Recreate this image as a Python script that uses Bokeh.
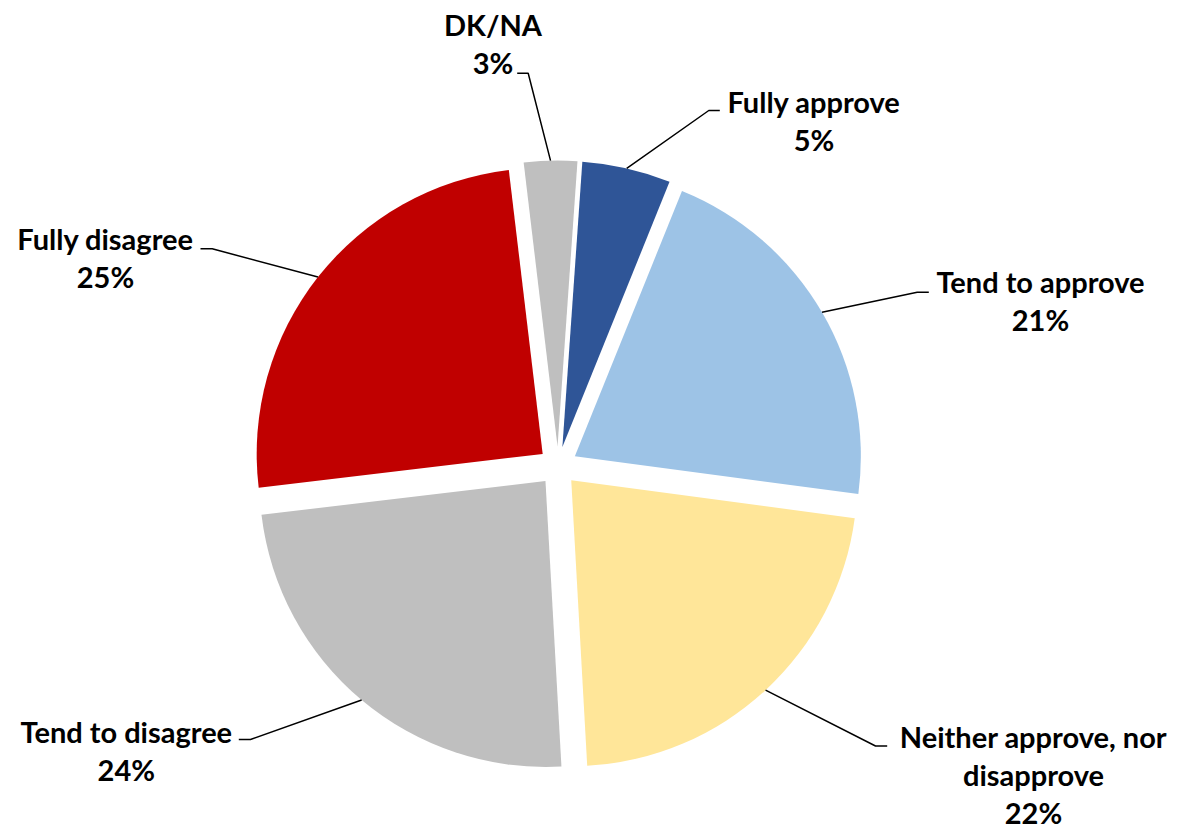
from math import sin, cos, radians

from bokeh.core.properties import value
from bokeh.embed import file_html
from bokeh.models import ColumnDataSource, Range1d
from bokeh.plotting import figure
from bokeh.resources import INLINE

# Survey answers, clockwise from just past 12 o'clock
categories = [
    "Fully approve",
    "Tend to approve",
    "Neither approve, nor disapprove",
    "Tend to disagree",
    "Fully disagree",
    "DK/NA",
]
shares = [5, 21, 22, 24, 25, 3]
label_lines = [
    ["Fully approve"],
    ["Tend to approve"],
    ["Neither approve, nor", "disapprove"],
    ["Tend to disagree"],
    ["Fully disagree"],
    ["DK/NA"],
]
colors = ["#2F5597", "#9DC3E6", "#FFE699", "#BFBFBF", "#C00000", "#BFBFBF"]

# Canvas and pie geometry (pixel units, y measured downward from the top)
W, H = 1182, 830
CX, CY = 557.5, 465.5
R = 286
EXPLODE = 19.5
FIRST_ANGLE = 4.0  # degrees clockwise from 12 o'clock

# Label placement: leader elbow, end of the short horizontal tick,
# centre x of the text block and baseline of its first line
label_layout = [
    dict(elbow=(708.3, 110.0), tick=(719.3, 110.0), cx=813.5, base=111.7),
    dict(elbow=(916.7, 291.7), tick=(928.3, 291.7), cx=1040.0, base=291.7),
    dict(elbow=(875.0, 745.5), tick=(886.7, 745.5), cx=1033.0, base=747.0),
    dict(elbow=(250.0, 739.0), tick=(238.3, 739.0), cx=125.8, base=741.7),
    dict(elbow=(211.7, 248.3), tick=(200.0, 248.3), cx=105.0, base=249.3),
    dict(elbow=(527.7, 72.7), tick=(516.7, 72.7), cx=492.5, base=35.0),
]
LINE_GAP = 38
BASELINE_SHIFT = -11  # the renderer's alphabetic anchor sits below the glyph baseline
FONT = value("Lato")
FONT_SIZE = "29px"


def up(y):
    """Convert a downward pixel y to the plot's upward data y."""
    return H - y


p = figure(
    width=W, height=H,
    x_range=Range1d(0, W), y_range=Range1d(0, H),
    output_backend="svg", toolbar_location=None,
    min_border=0, min_border_left=0, min_border_right=0,
    min_border_top=0, min_border_bottom=0,
)
p.axis.visible = False
p.xgrid.visible = False
p.ygrid.visible = False
p.outline_line_color = None
p.background_fill_color = "white"
p.border_fill_color = "white"

total = float(sum(shares))
wx, wy, wstart, wend = [], [], [], []
lead_xs, lead_ys = [], []
tx, ty, tt = [], [], []

angle = FIRST_ANGLE
for share, lines, lay in zip(shares, label_lines, label_layout):
    span = 360.0 * share / total
    a0, a1 = angle, angle + span
    mid = radians((a0 + a1) / 2)
    angle = a1

    # exploded apex of the slice
    ax = CX + EXPLODE * sin(mid)
    ay = CY - EXPLODE * cos(mid)
    wx.append(ax)
    wy.append(up(ay))
    # clockwise-from-top -> counter-clockwise-from-east
    wstart.append(radians(90.0 - a1))
    wend.append(radians(90.0 - a0))

    # leader line from the arc midpoint to the label
    px = ax + R * sin(mid)
    py = ay - R * cos(mid)
    lead_xs.append([px, lay["elbow"][0], lay["tick"][0]])
    lead_ys.append([up(py), up(lay["elbow"][1]), up(lay["tick"][1])])

    texts = list(lines) + [f"{share}%"]
    for k, t in enumerate(texts):
        tx.append(lay["cx"])
        ty.append(up(lay["base"] + BASELINE_SHIFT + k * LINE_GAP))
        tt.append(t)

slices = ColumnDataSource(dict(
    x=wx, y=wy, start=wstart, end=wend, color=colors, name=categories,
))
p.wedge(
    x="x", y="y", radius=R, start_angle="start", end_angle="end",
    direction="anticlock", fill_color="color", line_color=None, source=slices,
)

p.multi_line(xs=lead_xs, ys=lead_ys, line_color="black", line_width=1.5)

p.text(
    x=tx, y=ty, text=tt,
    text_align="center", text_baseline="alphabetic",
    text_font=FONT, text_font_style="bold", text_font_size=FONT_SIZE,
    text_color="black",
)

with open("out.html", "w") as f:
    f.write(file_html(p, INLINE))
